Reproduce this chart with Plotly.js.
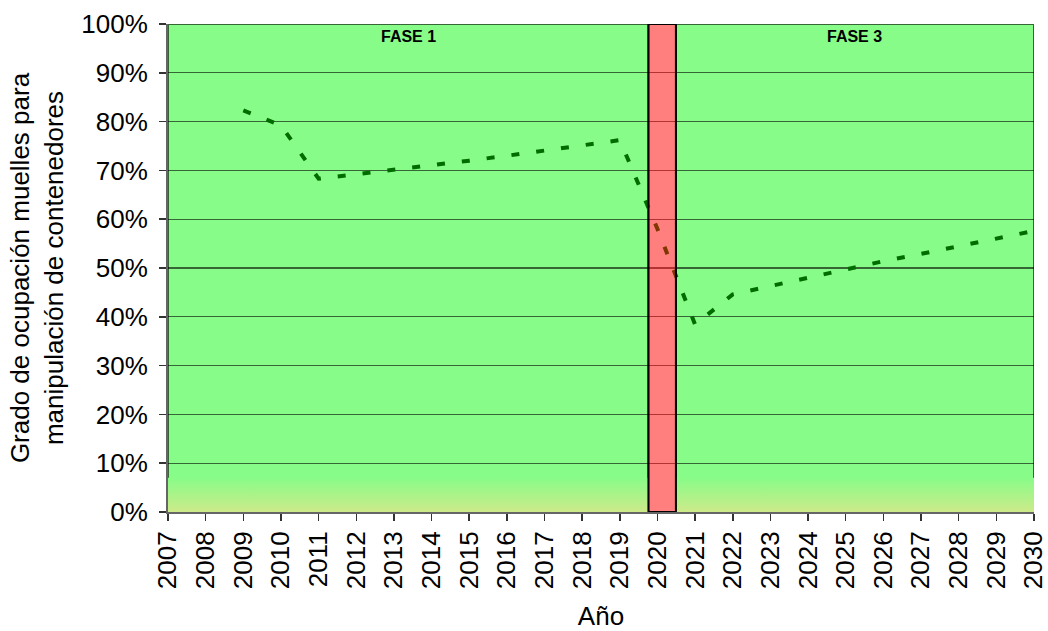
<!DOCTYPE html>
<html>
<head>
<meta charset="utf-8">
<script src="https://cdn.plot.ly/plotly-3.0.1.min.js"></script>
<style>html,body{margin:0;padding:0;background:#fff;}#chart{width:1048px;height:631px;}</style>
</head>
<body>
<div id="chart"></div>
<script>
// ---- data ----
var years = [2009, 2010, 2011, 2012, 2013, 2014, 2015, 2016, 2017, 2018, 2019,
             2020, 2021, 2022, 2023, 2024, 2025, 2026, 2027, 2028, 2029, 2030];
var occupancy = [0.823, 0.792, 0.683, 0.692, 0.700, 0.710, 0.720, 0.730, 0.741, 0.751, 0.762,
                 0.580, 0.384, 0.446, 0.463, 0.482, 0.499, 0.514, 0.529, 0.544, 0.559, 0.576];
var phaseNames = ['FASE 1', '', 'FASE 3'];
var phaseStart = [2007, 2019.76, 2020.49];
var phaseEnd = [2019.76, 2020.49, 2030];
var phaseKind = ['green', 'red', 'green'];
var xRange = [2007, 2030];
var yTickVals = [0, 0.1, 0.2, 0.3, 0.4, 0.5, 0.6, 0.7, 0.8, 0.9, 1.0];

// ---- styles ----
var FONT = 'Arial, "Liberation Sans", sans-serif';
var GREEN = '#88fc88';
var GRAD_BOTTOM = '#cdea8a';
var GRAD_TOP = 0.07;

var traces = [];
var shapes = [];
var annotations = [];

for (var i = 0; i < phaseNames.length; i++) {
  if (phaseKind[i] === 'green') {
    shapes.push({
      type: 'rect', xref: 'x', yref: 'y', layer: 'below',
      x0: phaseStart[i], x1: phaseEnd[i], y0: 0, y1: 1,
      fillcolor: GREEN, line: {color: 'rgba(0,0,0,0.6)', width: 2}
    });
    traces.push({
      type: 'scatter', mode: 'lines', hoverinfo: 'skip', showlegend: false,
      x: [phaseStart[i], phaseEnd[i], phaseEnd[i], phaseStart[i], phaseStart[i]],
      y: [0, 0, GRAD_TOP, GRAD_TOP, 0],
      fill: 'toself', line: {width: 0},
      fillgradient: {type: 'vertical', start: 0, stop: GRAD_TOP,
                     colorscale: [[0, GRAD_BOTTOM], [1, GREEN]]}
    });
  } else {
    shapes.push({
      type: 'rect', xref: 'x', yref: 'y', layer: 'above',
      x0: phaseStart[i], x1: phaseEnd[i], y0: 0, y1: 1,
      fillcolor: 'rgba(255,0,0,0.5)', line: {color: '#000000', width: 2}
    });
  }
  if (phaseNames[i]) {
    annotations.push({
      xref: 'x', yref: 'y', x: (phaseStart[i] + phaseEnd[i]) / 2, y: 1,
      yanchor: 'top', yshift: -2, showarrow: false,
      text: '<b>' + phaseNames[i] + '</b>',
      font: {family: FONT, size: 16, color: '#000'}
    });
  }
}

traces.push({
  type: 'scatter', mode: 'lines', hoverinfo: 'skip', showlegend: false,
  x: years, y: occupancy,
  line: {color: '#006c00', width: 4, dash: '8px,17px'}
});

var layout = {
  width: 1048, height: 631,
  margin: {l: 168, r: 14, t: 24, b: 119, pad: 0},
  paper_bgcolor: '#ffffff', plot_bgcolor: '#ffffff',
  font: {family: FONT, size: 26, color: '#000'},
  showlegend: false,
  xaxis: {
    range: xRange, tickmode: 'linear', tick0: 2007, dtick: 1,
    tickangle: -90, ticks: 'outside', ticklen: 7, tickwidth: 1.5, tickcolor: '#333',
    ticklabeloverflow: 'allow',
    showgrid: false, zeroline: false,
    showline: true, linecolor: 'rgba(0,0,0,0.6)', linewidth: 2,
    tickfont: {family: FONT, size: 26, color: '#000'},
    title: {text: 'Año', font: {family: FONT, size: 26, color: '#000'}, standoff: 25}
  },
  yaxis: {
    range: [0, 1], tickvals: yTickVals, tickformat: '.0%',
    ticks: 'outside', ticklen: 7, tickwidth: 1.5, tickcolor: '#333',
    ticklabelstandoff: 6,
    showgrid: true, gridcolor: 'rgba(0,0,0,0.6)', gridwidth: 1.2,
    zeroline: false,
    showline: true, linecolor: 'rgba(0,0,0,0.6)', linewidth: 2,
    tickfont: {family: FONT, size: 26, color: '#000'},
    title: {text: 'Grado de ocupación muelles para<br>manipulación de contenedores',
            font: {family: FONT, size: 26, color: '#000'}, standoff: 10}
  },
  shapes: shapes,
  annotations: annotations
};

Plotly.newPlot('chart', traces, layout, {staticPlot: true, displayModeBar: false});
</script>
</body>
</html>
